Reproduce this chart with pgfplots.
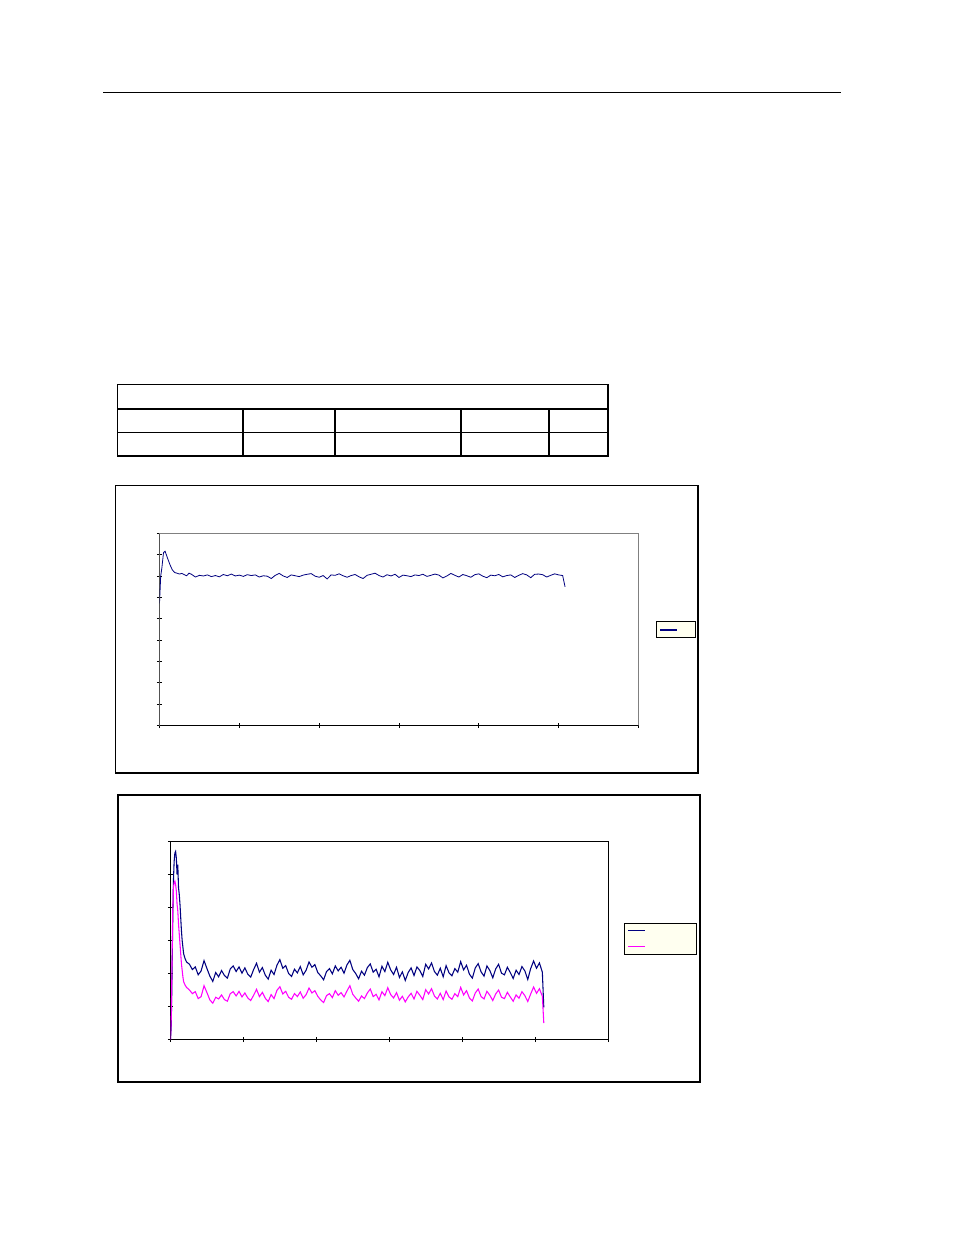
\documentclass[border=0pt]{standalone}
\usepackage{pgfplots}
\pgfplotsset{compat=1.18}
\usepackage{pgfplotstable}
\definecolor{xlnavy}{RGB}{0,0,128}
\definecolor{xlmag}{RGB}{255,0,255}
\definecolor{xlivory}{RGB}{255,255,240}

% upper chart: one series
\pgfplotstableread{
x y
0 57.3
1.5 70
3 74
5 81.0
7 81.7
10 78.5
13 75.5
16 73
19 71.7
22 71.4
25 71.0
28 71.3
31 70.7
34 70.2
37 71.4
40 70.9
45 69.6
50 70.4
55 70.1
60 70.6
65 69.8
70 70.3
75 69.7
80 70.8
85 70.2
90 71.0
95 70.1
100 70.5
105 69.9
110 70.7
115 70.3
120 70.6
125 69.6
130 70.2
135 70.0
140 68.9
145 70.4
150 71.3
155 70.1
160 69.4
165 70.6
170 70.2
175 69.8
180 70.5
185 70.9
190 71.2
195 70.0
200 69.5
205 70.3
210 68.7
215 70.6
220 70.4
225 71.1
230 70.2
235 69.5
240 70.3
245 70.8
250 69.7
255 68.9
260 70.4
265 70.9
270 71.4
275 70.3
280 69.6
285 70.7
290 70.1
295 70.9
300 69.4
305 70.5
310 70.2
315 69.8
320 70.6
325 70.3
330 70.9
335 69.9
340 70.4
345 71.0
350 70.5
355 69.2
360 70.1
365 71.3
370 70.4
375 69.6
380 70.8
385 70.2
390 69.5
395 70.7
400 71.1
405 70.0
410 69.3
415 70.5
420 70.2
425 70.8
430 69.7
435 70.3
440 70.6
445 69.4
450 70.4
455 71.2
460 70.6
465 69.3
470 70.9
475 71.0
480 70.7
485 69.6
490 70.4
495 71.1
500 70.6
505 70.3
508 65.0
}\tabA

% lower chart: two series
\pgfplotstableread{
x b m
0 0.0 0.0
1 4 6
2 18 22
3 35 38
4 48 46
5 54 47.5
6 56.5 48
7 57 47
8 55 45
9 50 41
10 53 39
11 46 35
12 44 32
13 41 29
14 37 26
15 33 23
16 30 21
17 28 19
18 26 17.5
20 24.5 16.5
22 23.5 15.8
26 22.8 15.0
30 21.2 13.9
34 22.0 14.5
38 19.6 12.4
42 20.8 13.0
46 23.9 16.3
50 21.5 14.2
54 19.2 12.0
58 17.6 11.0
62 20.3 12.8
66 19.0 12.3
70 20.9 13.5
74 19.4 12.1
78 18.6 11.6
82 21.4 13.9
86 22.3 14.5
90 20.6 13.2
94 22.0 14.6
98 20.1 12.9
102 21.7 14.1
106 19.8 12.6
110 18.9 11.8
114 21.2 13.4
118 23.1 15.2
122 20.4 13.0
126 21.8 14.3
130 19.5 12.5
134 18.3 11.5
138 21.0 13.6
142 19.7 12.4
146 22.5 14.9
150 24.2 16.0
154 21.6 13.8
158 22.4 14.6
162 20.0 12.8
166 19.1 12.2
170 21.3 13.9
174 20.2 13.0
178 22.1 14.4
182 19.6 12.5
186 21.0 13.6
190 23.5 15.6
194 21.9 14.1
198 22.7 14.8
202 20.3 13.1
206 19.3 12.0
210 18.1 11.2
214 20.6 13.3
218 21.5 13.9
222 19.9 12.7
226 22.3 14.8
230 20.8 13.4
234 21.9 14.2
238 20.1 12.9
242 22.6 14.7
246 24.0 16.3
250 21.2 13.7
254 20.0 12.6
258 18.4 11.6
262 20.7 13.2
266 19.5 12.4
270 21.8 14.1
274 22.9 15.3
278 20.4 13.0
282 21.3 13.7
286 19.0 12.0
290 22.2 14.5
294 20.6 13.3
298 23.4 15.7
302 21.1 13.6
306 19.7 12.6
310 21.9 14.2
314 18.8 11.9
318 20.5 13.1
322 17.9 11.4
326 20.3 12.9
330 21.7 14.0
334 19.4 12.3
338 22.0 14.6
342 20.9 13.4
346 19.1 12.1
350 22.8 15.1
354 21.4 13.8
358 23.2 15.4
362 20.6 13.2
366 19.5 12.3
370 21.6 14.0
374 19.0 12.1
378 22.4 14.7
382 20.2 12.9
386 19.3 12.2
390 21.5 13.9
394 20.4 13.0
398 23.6 15.8
402 21.1 13.5
406 22.5 14.8
410 19.8 12.6
414 18.6 11.7
418 21.7 14.1
422 23.0 15.3
426 20.5 13.0
430 19.2 12.3
434 22.3 14.6
438 20.9 13.4
442 18.7 11.8
446 21.4 13.8
450 22.8 15.0
454 20.1 12.8
458 19.6 12.4
462 21.9 14.3
466 20.3 12.9
470 18.5 11.6
474 21.0 13.5
478 19.7 12.5
482 22.1 14.5
486 20.8 13.3
490 18.2 11.5
494 21.5 13.8
498 23.8 15.9
502 21.6 14.0
506 23.2 15.4
510 20.4 13.1
512 9.7 5.0
}\tabB

\pgfplotsset{xlchart/.style={
  scale only axis, anchor=south west,
  xmin=0, xmax=600, xtick={0,100,...,600},
  xticklabels={,,}, yticklabels={,,},
  tick align=center, tick pos=left, major tick length=4pt,
  tick style={black, line width=0.6pt},
  axis line style={line width=0.6pt},
}}

\begin{document}
\begin{tikzpicture}
\begin{scope}[x=0.75pt, y=-0.75pt]
  \fill[white] (0,0) rectangle (954,1235);
  % header rule
  \draw[line width=0.75pt] (103,92.5) -- (841,92.5);
  % empty table
  \draw[line width=0.9pt] (117.5,384.5) rectangle (608,456);
  \draw[line width=0.9pt] (117.5,409) -- (608,409);
  \draw[line width=0.9pt] (117.5,432.5) -- (608,432.5);
  \foreach \c in {243,335,461,549} \draw[line width=0.9pt] (\c,409) -- (\c,456);
  % chart frames
  \draw[line width=0.8pt] (115.5,485.5) rectangle (698,773);
  \draw[line width=1.5pt] (117.5,795) rectangle (700,1081.5);
  % legend boxes
  \draw[fill=xlivory, line width=0.7pt] (656,621) rectangle (695,637);
  \draw[xlnavy, line width=0.8pt] (660,630) -- (677,630);
  \draw[fill=xlivory, line width=0.7pt] (624,923) rectangle (696,954);
  \draw[xlnavy, line width=0.8pt] (628,930.5) -- (645,930.5);
  \draw[xlmag, line width=0.8pt] (628,946.5) -- (645,946.5);
\end{scope}

\begin{axis}[xlchart,
  at={(119.625pt,-544.125pt)}, width=359.25pt, height=144pt,
  ymin=0, ymax=90, ytick={0,10,...,90},
  axis line style={draw=gray}]
  \addplot[xlnavy, line width=0.6pt] table[x=x, y=y] {\tabA};
  \draw[black, line width=0.6pt] (rel axis cs:0,1) -- (rel axis cs:0,0) -- (rel axis cs:1,0);
\end{axis}

\begin{axis}[xlchart,
  at={(127.875pt,-779.625pt)}, width=328.1pt, height=148.5pt,
  ymin=0, ymax=60, ytick={0,10,...,60},
  axis line style={draw=black}]
  \addplot[xlnavy, line width=0.8pt] table[x=x, y=b] {\tabB};
  \addplot[xlmag, line width=0.8pt] table[x=x, y=m] {\tabB};
\end{axis}
\end{tikzpicture}
\end{document}
